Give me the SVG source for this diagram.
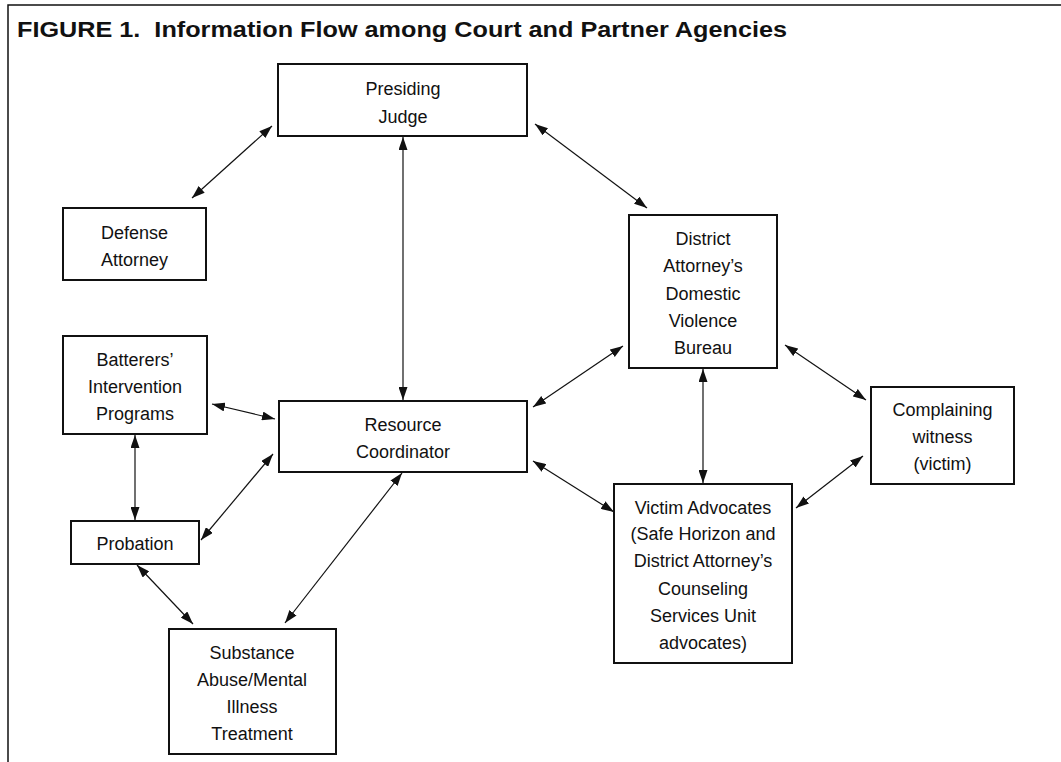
<svg xmlns="http://www.w3.org/2000/svg" width="1061" height="762" viewBox="0 0 1061 762">
<style>
.box{fill:#fff;stroke:#111;stroke-width:2}
.lbl{font-family:"Liberation Sans",Arial,sans-serif;font-size:18px;fill:#111;text-anchor:middle}
.title{font-family:"Liberation Sans",Arial,sans-serif;font-size:22px;font-weight:bold;fill:#111}
.conn line{stroke:#111;stroke-width:1.2;marker-start:url(#ah);marker-end:url(#ah)}
.frame{stroke:#111;stroke-width:1.5;fill:none}
</style>
<defs>
<marker id="ah" viewBox="0 0 13 9" refX="13" refY="4.5" markerWidth="13" markerHeight="9" markerUnits="userSpaceOnUse" orient="auto-start-reverse">
<path d="M0,0 L13,4.5 L0,9 z" fill="#111"/>
</marker>
</defs>
<rect width="1061" height="762" fill="#fff"/>
<path class="frame" d="M8,762 L8,5 L1061,5"/>
<text class="title" x="17" y="37" xml:space="preserve" textLength="770" lengthAdjust="spacingAndGlyphs">FIGURE 1.  Information Flow among Court and Partner Agencies</text>

<g id="connectors" class="conn">
<line x1="272" y1="126" x2="192" y2="198"/>
<line x1="535" y1="124" x2="647" y2="208"/>
<line x1="403" y1="137" x2="403" y2="400"/>
<line x1="212" y1="404" x2="275" y2="419"/>
<line x1="135" y1="435" x2="135" y2="520"/>
<line x1="201" y1="540" x2="273" y2="454"/>
<line x1="137" y1="565" x2="193" y2="624"/>
<line x1="402" y1="473" x2="285" y2="623"/>
<line x1="533" y1="407" x2="623" y2="346"/>
<line x1="533" y1="461" x2="614" y2="512"/>
<line x1="703" y1="369" x2="703" y2="483"/>
<line x1="785" y1="345" x2="866" y2="400"/>
<line x1="863" y1="456" x2="796" y2="508"/>
</g>

<g id="judge">
<rect class="box" x="278" y="64" width="249" height="72"/>
<text class="lbl" x="403" y="94.5">Presiding</text>
<text class="lbl" x="403" y="122.5">Judge</text>
</g>
<g id="defense">
<rect class="box" x="63" y="208" width="143" height="72"/>
<text class="lbl" x="134.5" y="238.5">Defense</text>
<text class="lbl" x="134.5" y="265.5">Attorney</text>
</g>
<g id="batterers">
<rect class="box" x="63" y="336" width="144" height="98"/>
<text class="lbl" x="135" y="365.5">Batterers’</text>
<text class="lbl" x="135" y="393">Intervention</text>
<text class="lbl" x="135" y="419.5">Programs</text>
</g>
<g id="resource">
<rect class="box" x="279" y="401" width="248" height="71"/>
<text class="lbl" x="403" y="430.5">Resource</text>
<text class="lbl" x="403" y="457.5">Coordinator</text>
</g>
<g id="probation">
<rect class="box" x="71" y="521" width="128" height="43"/>
<text class="lbl" x="135" y="549.5">Probation</text>
</g>
<g id="substance">
<rect class="box" x="169" y="629" width="167" height="125"/>
<text class="lbl" x="252" y="658.5">Substance</text>
<text class="lbl" x="252" y="685.5">Abuse/Mental</text>
<text class="lbl" x="252" y="713">Illness</text>
<text class="lbl" x="252" y="739.5">Treatment</text>
</g>
<g id="da">
<rect class="box" x="629" y="215" width="148" height="153"/>
<text class="lbl" x="703" y="244.5">District</text>
<text class="lbl" x="703" y="272">Attorney’s</text>
<text class="lbl" x="703" y="299.5">Domestic</text>
<text class="lbl" x="703" y="326.5">Violence</text>
<text class="lbl" x="703" y="353.5">Bureau</text>
</g>
<g id="witness">
<rect class="box" x="871" y="387" width="143" height="97"/>
<text class="lbl" x="942.5" y="415.5">Complaining</text>
<text class="lbl" x="942.5" y="442.5">witness</text>
<text class="lbl" x="942.5" y="469.5">(victim)</text>
</g>
<g id="advocates">
<rect class="box" x="614" y="484" width="178" height="179"/>
<text class="lbl" x="703" y="513.5">Victim Advocates</text>
<text class="lbl" x="703" y="540">(Safe Horizon and</text>
<text class="lbl" x="703" y="567">District Attorney’s</text>
<text class="lbl" x="703" y="594.5">Counseling</text>
<text class="lbl" x="703" y="621.5">Services Unit</text>
<text class="lbl" x="703" y="649">advocates)</text>
</g>
</svg>
